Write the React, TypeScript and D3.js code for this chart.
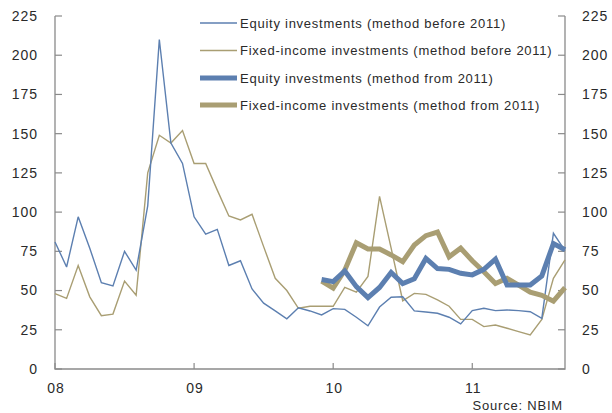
import React from "react";
import * as d3 from "d3";

const yearLabels = ["08", "09", "10", "11"];
const yearTickMonths = [0, 12, 24, 36];
const yTicks = [0, 25, 50, 75, 100, 125, 150, 175, 200, 225];

// monthly values, Jan 2008 (index 0) .. Sep 2011 (index 44)
const equityBefore = [81, 65, 97, 77, 55, 53, 75, 63, 104, 210, 144, 131, 97, 86, 89, 66, 69, 51, 42, 37, 32, 39, 37, 34.5, 38.5, 38, 33, 27.5, 39.5, 45.7, 46, 37, 36.3, 35.5, 33, 28.7, 37.2, 38.7, 37.2, 37.6, 37.2, 36.5, 32.3, 86.5, 75.5];
const fixedBefore = [48, 45, 66, 46, 34, 35, 56, 47, 125, 149, 144, 152, 131, 131, 114, 97.5, 95, 98.6, 78, 57.8, 50, 38.7, 40, 40, 40, 52, 49, 59, 110, 77, 43.5, 48.2, 47.6, 44, 40, 31.6, 31.6, 27, 28, 26, 23.8, 21.7, 31.6, 57.8, 69.5];
const fromStartMonth = 23;
const equityFrom = [57, 55.7, 62.5, 52.5, 45.5, 52, 61.5, 54.5, 57.5, 70.5, 64, 63.5, 61, 60, 63.5, 70, 53.5, 53.5, 53.5, 59.3, 80, 76];
const fixedFrom = [56, 51.5, 63, 80.5, 76.5, 76.5, 72.7, 68.4, 79, 85, 87.3, 71.5, 77, 69, 62, 54.5, 57.8, 53.5, 49, 47, 43.2, 51.8];

const legendLabels = [
  "Equity investments (method before 2011)",
  "Fixed-income investments (method before 2011)",
  "Equity investments (method from 2011)",
  "Fixed-income investments (method from 2011)",
];

const BLUE = "#5c7fb0";
const KHAKI = "#a99e73";
const AXIS = "#8a8a8a";
const TEXT = "#2a2a2a";
const FONT = "'Liberation Sans', Arial, sans-serif";

export default function App() {
  const W = 612, H = 413;
  const left = 55, right = 565, top = 16, bottom = 369;
  const x = d3.scaleLinear().domain([0, 44]).range([left, right]);
  const y = d3.scaleLinear().domain([0, 225]).range([bottom, top]);

  const line = d3.line<[number, number]>().x(d => x(d[0])).y(d => y(d[1]));
  const toPts = (arr: number[], start: number) => arr.map((v, i) => [start + i, v] as [number, number]);

  const series = [
    { data: toPts(equityBefore, 0), color: BLUE, w: 1.4 },
    { data: toPts(fixedBefore, 0), color: KHAKI, w: 1.4 },
    { data: toPts(equityFrom, fromStartMonth), color: BLUE, w: 5 },
    { data: toPts(fixedFrom, fromStartMonth), color: KHAKI, w: 5 },
  ];
  const drawOrder = [1, 0, 3, 2];

  const legendY = [23, 50.5, 78, 105];

  return (
    <svg width={W} height={H} style={{ position: "absolute", left: 0, top: 0, background: "#fff" }} fontFamily={FONT}>
      {/* axes */}
      <path d={`M${left},${top}V${bottom}H${right}V${top}`} fill="none" stroke={AXIS} strokeWidth={1.3} />
      {yTicks.map(t => (
        <g key={"yt" + t}>
          <line x1={left} x2={left + 7} y1={y(t)} y2={y(t)} stroke={AXIS} strokeWidth={1.2} />
          <line x1={right - 7} x2={right} y1={y(t)} y2={y(t)} stroke={AXIS} strokeWidth={1.2} />
          <text x={38} y={y(t)} dy="0.35em" textAnchor="end" fontSize={14} letterSpacing={1} fill={TEXT}>{t}</text>
          <text x={582} y={y(t)} dy="0.35em" textAnchor="start" fontSize={14} letterSpacing={1} fill={TEXT}>{t}</text>
        </g>
      ))}
      {yearTickMonths.map((m, i) => (
        <g key={"xt" + m}>
          <line x1={x(m)} x2={x(m)} y1={bottom} y2={bottom - 6} stroke={AXIS} strokeWidth={1.2} />
          <text x={x(m) + 1} y={393} textAnchor="middle" fontSize={14} letterSpacing={1} fill={TEXT}>{yearLabels[i]}</text>
        </g>
      ))}
      {/* lines */}
      {drawOrder.map(k => (
        <path key={"s" + k} d={line(series[k].data) || ""} fill="none" stroke={series[k].color}
          strokeWidth={series[k].w} strokeLinejoin="miter" strokeMiterlimit={3} />
      ))}
      {/* legend */}
      {legendLabels.map((lab, i) => (
        <g key={"lg" + i}>
          <line x1={200} x2={237} y1={legendY[i]} y2={legendY[i]} stroke={series[i].color}
            strokeWidth={i < 2 ? 1.4 : 5} />
          <text x={240} y={legendY[i]} dy="0.35em" fontSize={13} letterSpacing={0.75} fill={TEXT}>{lab}</text>
        </g>
      ))}
      <text x={563} y={410} textAnchor="end" fontSize={13} letterSpacing={0.8} fill={TEXT}>Source: NBIM</text>
    </svg>
  );
}
